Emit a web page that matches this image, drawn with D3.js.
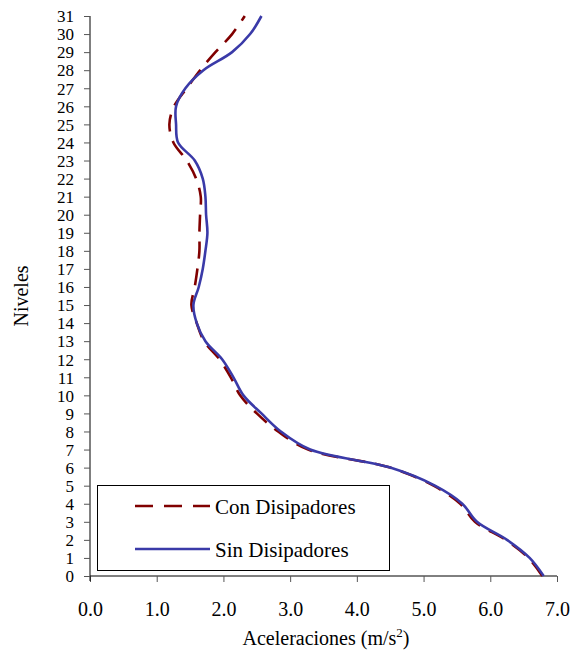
<!DOCTYPE html>
<html>
<head>
<meta charset="utf-8">
<script src="https://cdn.jsdelivr.net/npm/d3@7"></script>
<style>
html,body{margin:0;padding:0;background:#fff;}
svg{display:block;}
svg text{font-family:"Liberation Serif","Tinos","Times New Roman","Noto Serif","DejaVu Serif",Times,serif !important;fill:#000;}
</style>
</head>
<body>
<svg id="chart" width="571" height="655"></svg>
<script>
// ---- data ----
const levels = d3.range(0, 32);
const conDisipadores = [6.78, 6.57, 6.23, 5.77, 5.55, 5.15, 4.50, 3.27, 2.82, 2.50,
  2.25, 2.11, 1.94, 1.71, 1.60, 1.52, 1.57, 1.61, 1.64, 1.64,
  1.65, 1.66, 1.59, 1.45, 1.25, 1.19, 1.26, 1.45, 1.65, 1.88,
  2.13, 2.32];
const sinDisipadores = [6.80, 6.59, 6.25, 5.80, 5.58, 5.17, 4.50, 3.30, 2.86, 2.57,
  2.30, 2.15, 1.98, 1.73, 1.60, 1.55, 1.63, 1.69, 1.73, 1.76,
  1.74, 1.73, 1.69, 1.57, 1.32, 1.29, 1.29, 1.43, 1.70, 2.13,
  2.40, 2.57];
const xTicks = [0, 1, 2, 3, 4, 5, 6, 7];
const yTicks = d3.range(0, 32);
const seriesNames = ["Con Disipadores", "Sin Disipadores"];
const seriesColors = ["#800000", "#3a3aa8"];

// ---- layout ----
const svg = d3.select("#chart");
const x = d3.scaleLinear().domain([0, 7]).range([90, 557]);
const y = d3.scaleLinear().domain([0, 31]).range([576, 16]);

// axes
const xAxis = d3.axisBottom(x).tickValues(xTicks).tickFormat(d3.format(".1f")).tickSize(6).tickPadding(20);
const yAxis = d3.axisLeft(y).tickValues(yTicks).tickFormat(d3.format("d")).tickSize(6).tickPadding(10);

const gx = svg.append("g").attr("transform", "translate(0,576)").call(xAxis);
gx.select(".domain").attr("stroke", "#000").attr("d", `M${x(0)},0H${x(7)}`);
gx.selectAll(".tick line").attr("stroke", "#555");
gx.selectAll(".tick text").attr("font-size", 20);

const gy = svg.append("g").attr("transform", "translate(90,0)").call(yAxis);
gy.select(".domain").attr("stroke", "#000").attr("d", `M0,${y(31)}V${y(0) + 5}`);
gy.selectAll(".tick line").attr("stroke", "#555");
gy.selectAll(".tick text").attr("font-size", 17).attr("dy", "0.34em");

// lines
const line = d3.line()
  .x(d => x(d[0]))
  .y(d => y(d[1]))
  .curve(d3.curveCatmullRom.alpha(0.5));

const allSeries = [conDisipadores, sinDisipadores];
allSeries.forEach((vals, i) => {
  svg.append("path")
    .datum(levels.map((lv, k) => [vals[k], lv]))
    .attr("fill", "none")
    .attr("stroke", seriesColors[i])
    .attr("stroke-width", 2.6)
    .attr("stroke-dasharray", i === 0 ? "17,10" : null)
    .attr("d", line);
});

// legend
const lg = svg.append("g");
lg.append("rect").attr("x", 97.5).attr("y", 485.5).attr("width", 292).attr("height", 85)
  .attr("fill", "#fff").attr("stroke", "#000").attr("stroke-width", 1);
[506, 549].forEach((ly, i) => {
  lg.append("line").attr("x1", 135).attr("x2", 210).attr("y1", ly).attr("y2", ly)
    .attr("stroke", seriesColors[i]).attr("stroke-width", 2.6)
    .attr("stroke-dasharray", i === 0 ? "18,11" : null);
  lg.append("text").attr("x", 215).attr("y", ly + 8).attr("font-size", 21).text(seriesNames[i]);
});

// axis titles
const xt = svg.append("text").attr("x", 326).attr("y", 645).attr("text-anchor", "middle")
  .attr("font-size", 20);
xt.append("tspan").text("Aceleraciones (m/s");
xt.append("tspan").attr("dy", -8).attr("font-size", 13).text("2");
xt.append("tspan").attr("dy", 8).text(")");

svg.append("text").attr("transform", "translate(28,296) rotate(-90)")
  .attr("text-anchor", "middle").attr("font-size", 20).text("Niveles");
</script>
</body>
</html>
